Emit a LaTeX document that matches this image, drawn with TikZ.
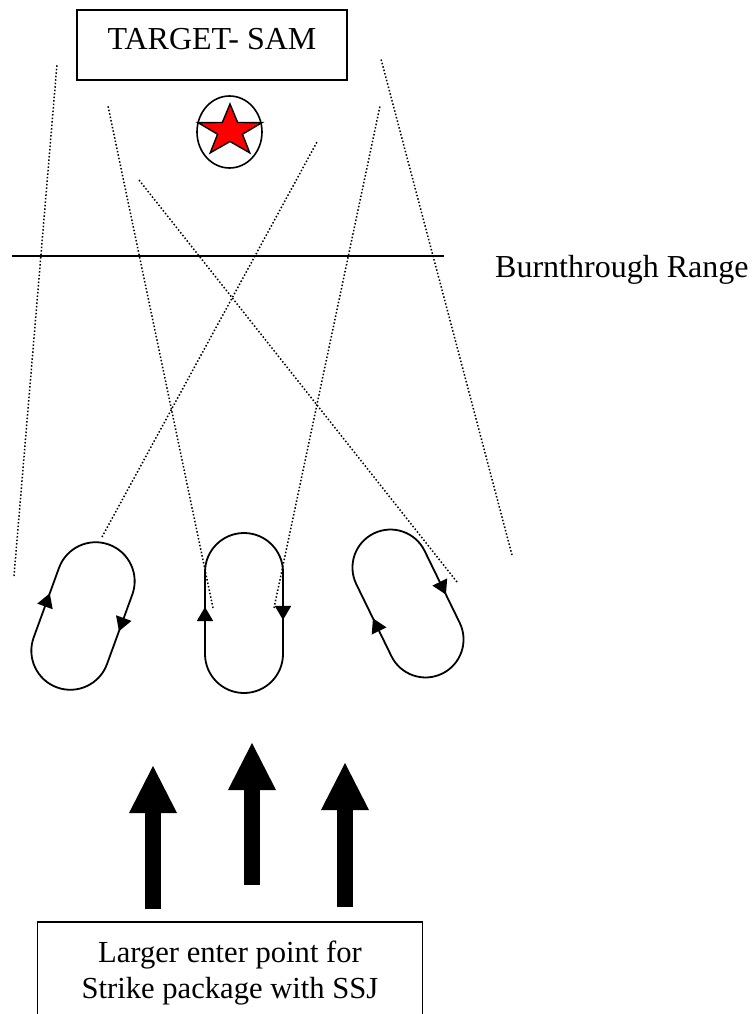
\documentclass[tikz,border=0pt]{standalone}
\usepackage{fontspec}
\setmainfont{Liberation Serif}
\usetikzlibrary{arrows.meta, decorations.markings}

\begin{document}
\begin{tikzpicture}[
    x=1pt, y=1pt, yscale=-1,
    labelbox/.style={rectangle, draw, line width=1.5pt, inner sep=0pt},
    beam/.style={dotted, line width=1.5pt},
    track/.style={line width=1.8pt},
    flow/.tip={Triangle[width=16pt, length=14pt]},
    push/.style={line width=16pt, -{Triangle[width=48pt, length=47pt, line width=0pt]}},
    font=\fontsize{32}{38}\selectfont
]
\useasboundingbox (0,0) rectangle (755,1014);
\clip (0,0) rectangle (755,1014);

% Target
\node[labelbox, minimum width=270pt, minimum height=70pt, text height=22pt, text depth=12pt] (target) at (212,45) {TARGET- SAM};

% SAM site
\coordinate (sam) at (229.5,132);
\draw[line width=1.6pt] (sam) ellipse [x radius=32.5, y radius=36];
\begin{scope}[shift={(230,131)}, xscale=1.245]
  \draw[fill=red, line width=1.4pt, line join=miter] (-90:27)
    \foreach \k in {0,...,4} { -- (-54+72*\k:10.5) -- (-18+72*\k:27) } -- cycle;
\end{scope}

% Burnthrough line
\coordinate (rangew) at (12,256);
\coordinate (rangee) at (444,256);
\draw[track] (rangew) -- (rangee);
\node[anchor=base west, inner sep=0pt] (range) at (495,277) {Burnthrough Range};

% Jammer beams
\foreach \i/\ax/\ay/\bx/\by in {1/57/64/14/576, 2/108/106/213/608, 3/139/180/457/582,
                                4/317/142/102/537, 5/380/106/274/608, 6/381/59/512/555} {
  \coordinate (aim\i) at (\ax,\ay);
  \coordinate (rest\i) at (\bx,\by);
  \draw[beam] (rest\i) -- (aim\i);
}

% Orbits
\foreach \name/\x/\y/\tilt/\h/\r/\up/\down in {holda/83/616/20/37/39/47/235.5,
                                               holdb/244/613/0/41/39/47/252.5,
                                               holdc/408/603.5/-26/40/38/42/248} {
  \begin{scope}[shift={(\x,\y)}, rotate=\tilt]
    \coordinate (\name) at (0,0);
    \draw[track, postaction={decorate}, decoration={markings,
        mark=at position \up pt with {\arrow{flow}},
        mark=at position \down pt with {\arrow{flow}}}]
      (-\r,\h) -- (-\r,-\h) arc[start angle=180, end angle=360, radius=\r]
      -- (\r,\h) arc[start angle=0, end angle=180, radius=\r] -- cycle;
  \end{scope}
}

% Strike package ingress
\foreach \i/\x/\tip/\low in {1/153/766/909, 2/252/743/885, 3/345/763/907} {
  \coordinate (tail\i) at (\x,\low);
  \coordinate (head\i) at (\x,\tip);
  \draw[push] (tail\i) -- (head\i);
}

% Entry point
\node[labelbox, minimum width=385pt, minimum height=120pt, anchor=north] (entry) at (230,921) {};
\node[anchor=base, inner sep=0pt, font=\fontsize{30.6}{36}\selectfont] (entryfirst) at (230,962) {Larger enter point for};
\node[anchor=base, inner sep=0pt, font=\fontsize{30.6}{36}\selectfont] (entrysecond) at (230,998) {Strike package with SSJ};

\end{tikzpicture}
\end{document}
